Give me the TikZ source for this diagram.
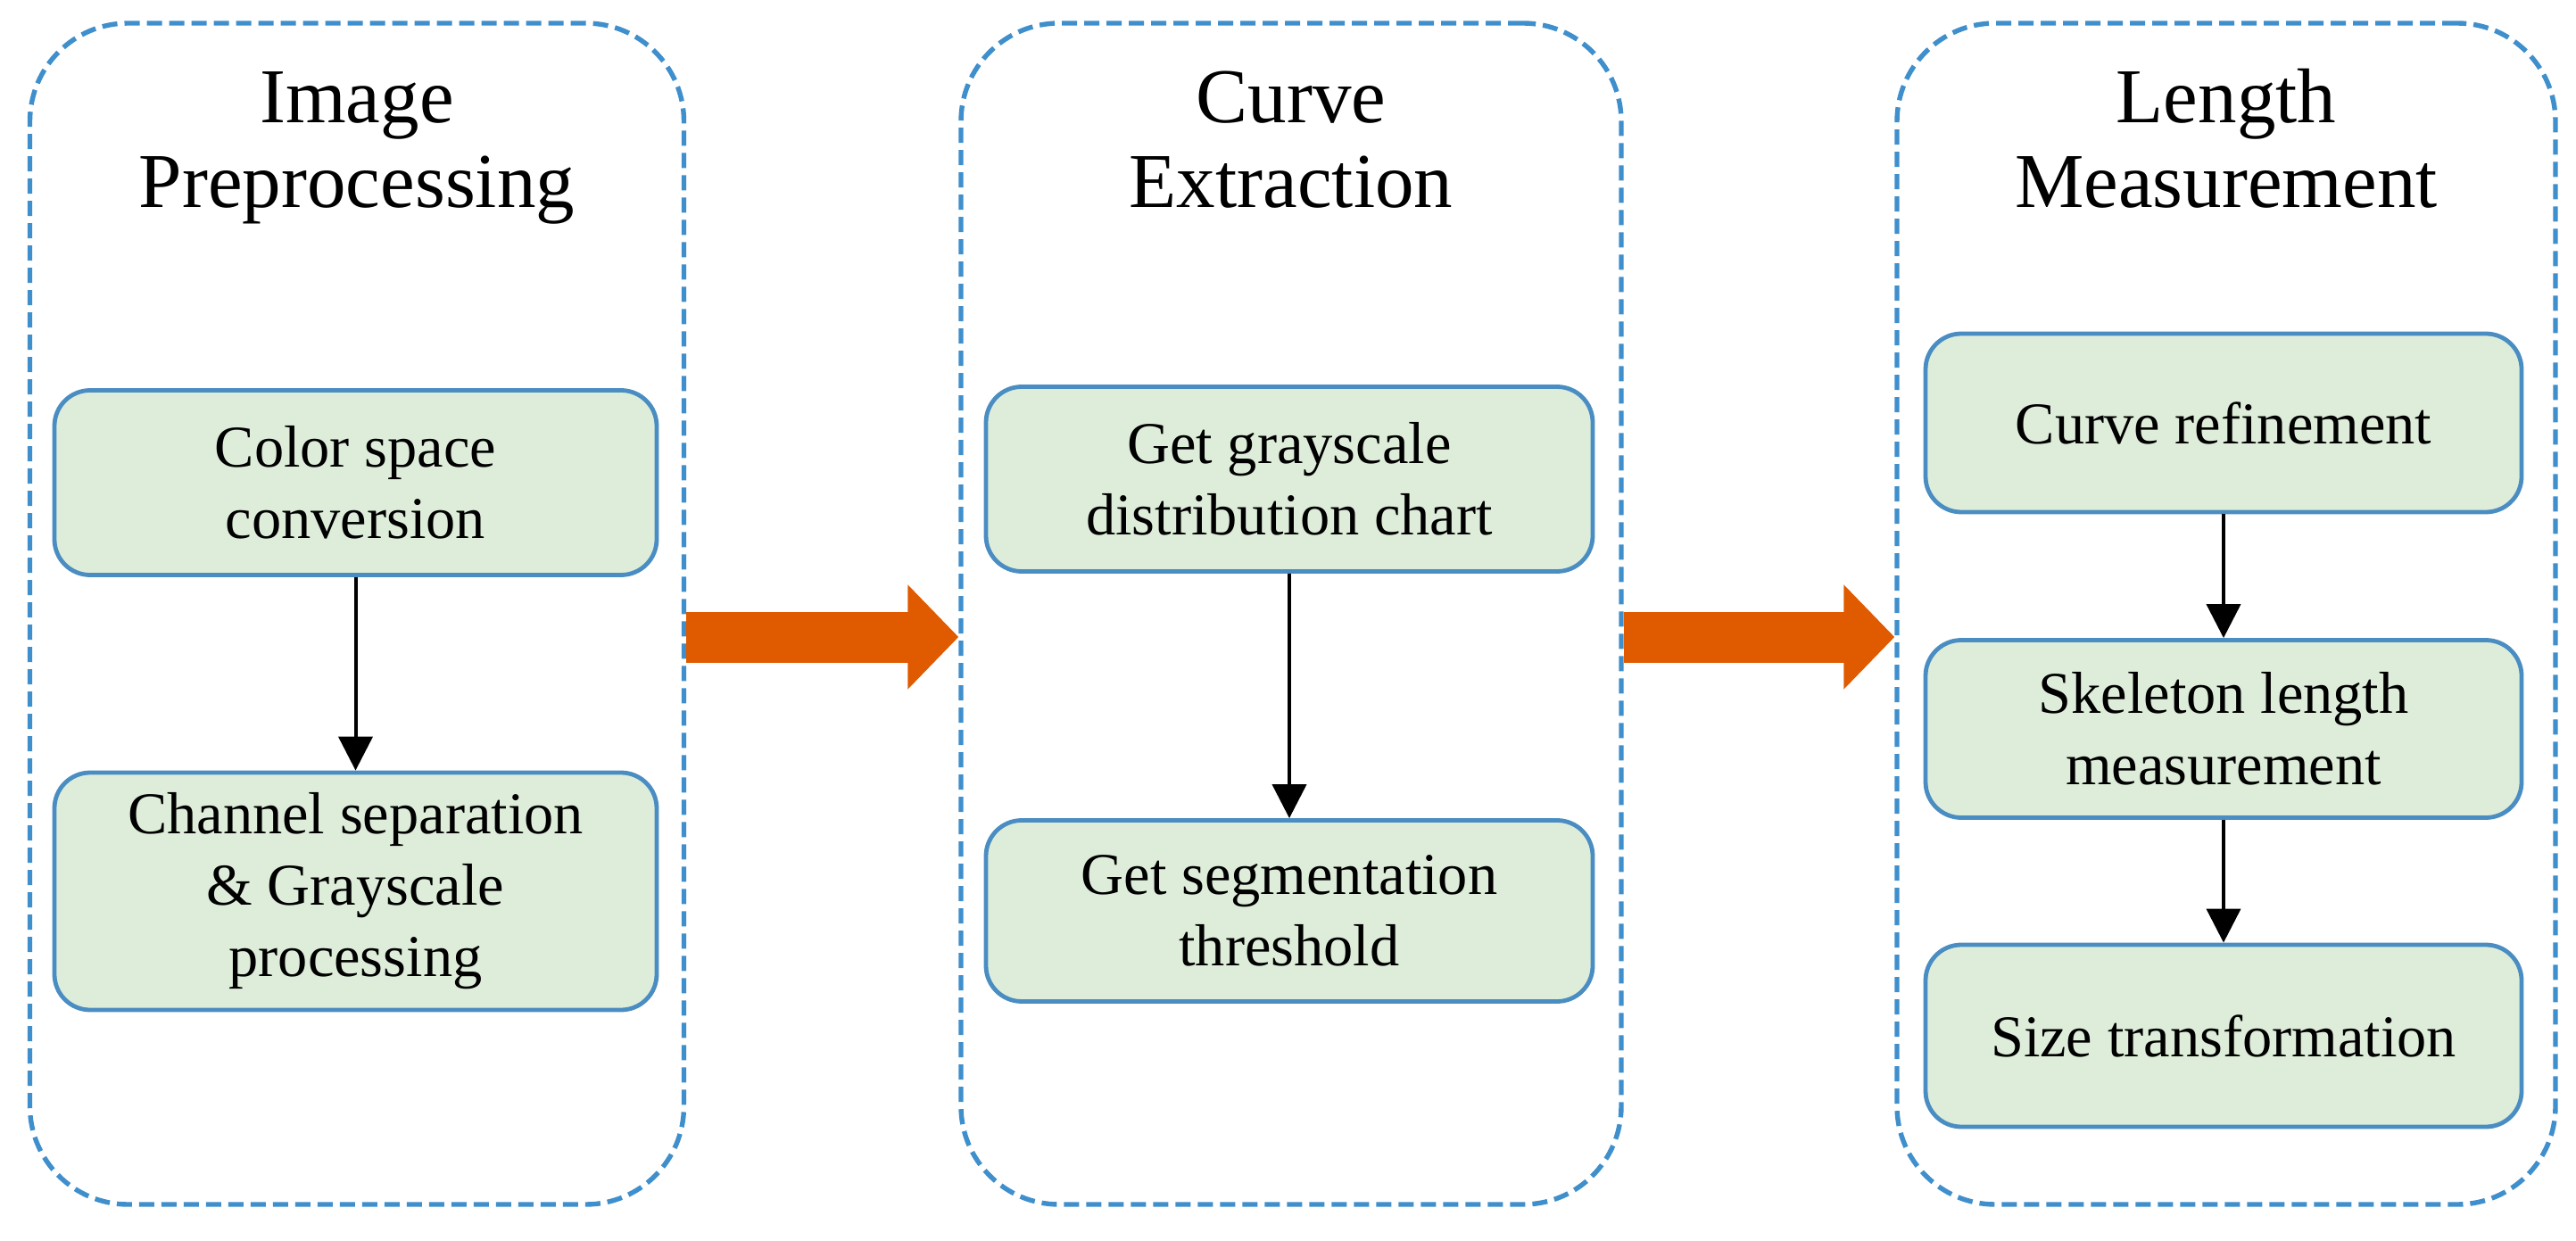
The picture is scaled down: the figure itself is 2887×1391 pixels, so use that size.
\documentclass[tikz,border=0pt]{standalone}
\usepackage{fontspec}
\setmainfont{Liberation Serif}
\usetikzlibrary{arrows.meta}
\definecolor{outerblue}{HTML}{3F8FCC}
\definecolor{innerblue}{HTML}{4A8DC2}
\definecolor{fillgreen}{HTML}{DEEDDA}
\definecolor{arroworange}{HTML}{E05A00}
\tikzset{
  stagebox/.style={draw=outerblue, line width=2.7pt, dash pattern=on 8.5pt off 4pt,
    rounded corners=55pt, inner sep=0pt},
  stagetitle/.style={align=center, inner sep=0pt, font=\fontsize{43.5pt}{47.5pt}\selectfont},
  stepbox/.style={draw=innerblue, fill=fillgreen, line width=2.4pt, rounded corners=20pt,
    align=center, inner sep=0pt, font=\fontsize{33.2pt}{40pt}\selectfont},
  flow/.style={draw=black, line width=2pt, -{Triangle[length=19pt,width=19pt]}},
  bigflow/.style={draw=arroworange, line width=28.5pt, -{Triangle[length=28.5pt,width=57pt]}}
}
\begin{document}
\begin{tikzpicture}[x=0.5pt, y=-0.5pt]
\useasboundingbox (0,0) rectangle (2887,1391);
% stage boxes
\node[stagebox, minimum width=366.5pt, minimum height=662pt] (b1) at (400,688) {};
\node[stagebox, minimum width=370pt, minimum height=662pt] (b2) at (1447,688) {};
\node[stagebox, minimum width=369pt, minimum height=662pt] (b3) at (2495,688) {};
% titles
\node[stagetitle] (t1) at (400,166.5) {\strut Image\\\strut Preprocessing};
\node[stagetitle] (t2) at (1447,166.5) {\strut Curve\\\strut Extraction};
\node[stagetitle] (t3) at (2495,166.5) {\strut Length\\\strut Measurement};
% step boxes
\node[stepbox, minimum width=337.5pt, minimum height=103.5pt] (s11) at (398.5,541) {Color space\\conversion};
\node[stepbox, minimum width=337.5pt, minimum height=133pt] (s12) at (398.5,999) {Channel separation\\\& Grayscale\\processing};
\node[stepbox, minimum width=340pt, minimum height=103.5pt] (s21) at (1445,537) {Get grayscale\\distribution chart};
\node[stepbox, minimum width=340pt, minimum height=101.5pt] (s22) at (1445,1021) {Get segmentation\\threshold};
\node[stepbox, minimum width=334pt, minimum height=100pt] (s31) at (2492,474) {Curve refinement};
\node[stepbox, minimum width=334pt, minimum height=99.5pt] (s32) at (2492,817) {Skeleton length\\measurement};
\node[stepbox, minimum width=334pt, minimum height=102pt] (s33) at (2492,1161) {Size transformation};
% inner arrows
\draw[flow] (s11) -- (s12);
\draw[flow] (s21) -- (s22);
\draw[flow] (s31) -- (s32);
\draw[flow] (s32) -- (s33);
% stage arrows
\coordinate (ay) at (0,714);
\draw[bigflow] (b1.east |- ay) -- (b2.west |- ay);
\draw[bigflow] (b2.east |- ay) -- (b3.west |- ay);
\end{tikzpicture}
\end{document}
